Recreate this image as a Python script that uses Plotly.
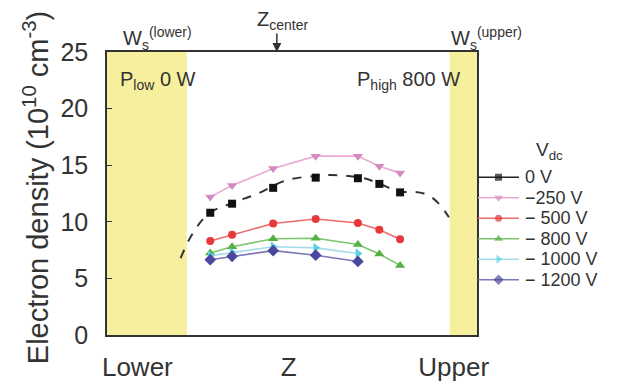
import plotly.graph_objects as go

# Normalized axial position Z (0 = lower wall, 1 = upper wall)
z_pts = [0.279, 0.338, 0.449, 0.564, 0.678, 0.736, 0.792]
z_pts5 = [0.279, 0.338, 0.449, 0.564, 0.678]

n_0v = [10.8, 11.6, 13.0, 13.9, 13.85, 13.35, 12.6]
n_250 = [12.2, 13.2, 14.7, 15.8, 15.8, 14.9, 14.3]
n_500 = [8.3, 8.85, 9.85, 10.25, 9.9, 9.3, 8.45]
n_800 = [7.25, 7.8, 8.5, 8.55, 8.0, 7.15, 6.15]
n_1000 = [7.0, 7.3, 7.8, 7.7, 7.2]
n_1200 = [6.65, 6.95, 7.45, 7.05, 6.5]

# dashed guide curve for 0 V
z_fit = [0.199, 0.232, 0.276, 0.338, 0.408, 0.483, 0.562, 0.606, 0.650, 0.694,
         0.734, 0.791, 0.826, 0.856, 0.882, 0.902, 0.924]
n_fit = [6.8, 9.0, 10.75, 11.65, 12.5, 13.65, 14.05, 14.13, 14.05, 13.85,
         13.4, 12.66, 12.66, 12.5, 12.05, 11.4, 10.4]

wall_lower = [0.0, 0.216]
wall_upper = [0.926, 1.0]
z_center = 0.459

x_tickvals = [0.082, 0.491, 0.937]
x_ticktext = ["Lower", "Z", "Upper"]
y_tickvals = [0, 5, 10, 15, 20, 25]

legend_names = ["0 V", "\u2212250 V", "\u2212 500 V", "\u2212 800 V", "\u2212 1000 V", "\u2212 1200 V"]

FONT = "Liberation Sans, Arial, sans-serif"
TXT = "#333333"

W, H = 620, 387
ML, MR, MT, MB = 107, 5, 52, 52
PW = W - ML - MR
PH = H - MT - MB
PLOT_RIGHT = 486


def px_x(px):
    return (px - ML) / PW


def px_y(py):
    return (H - MB - py) / PH


# name, x, y, line colour, marker colour, symbol, size, draw line in plot
series = [
    (legend_names[0], z_pts, n_0v, "#222222", "#111111", "square", 8, False),
    (legend_names[1], z_pts, n_250, "#e9a9d0", "#d48ac0", "triangle-down", 9, True),
    (legend_names[2], z_pts, n_500, "#ee6b6b", "#e8383c", "circle", 8, True),
    (legend_names[3], z_pts, n_800, "#7cc46a", "#55b043", "triangle-up", 9, True),
    (legend_names[4], z_pts5, n_1000, "#a5dcec", "#5fcfe3", "triangle-right", 9, True),
    (legend_names[5], z_pts5, n_1200, "#7a78b8", "#4a489e", "diamond", 9, True),
]

fig = go.Figure()

fig.add_trace(go.Scatter(
    x=z_fit, y=n_fit, mode="lines",
    line=dict(color="#333333", width=2, dash="dash", shape="spline"),
    showlegend=False, hoverinfo="skip"))

for name, xs, ys, lc, mc, sym, ms, show_line in series:
    fig.add_trace(go.Scatter(
        x=xs, y=ys, mode="lines+markers" if show_line else "markers", name=name,
        line=dict(color=lc, width=1.6),
        marker=dict(symbol=sym, size=ms, color=mc), showlegend=False))

# hand-built legend on its own small axes
for r, (name, xs, ys, lc, mc, sym, ms, show_line) in enumerate(series):
    fig.add_trace(go.Scatter(
        x=[0, 0.5, 1], y=[r, r, r], xaxis="x2", yaxis="y2", mode="lines+markers",
        line=dict(color=lc, width=1.6),
        marker=dict(symbol=sym, size=[0, ms - 1, 0], color=mc, line=dict(width=0)),
        showlegend=False, hoverinfo="skip"))

shapes = [
    dict(type="rect", xref="x", yref="paper", x0=wall_lower[0], x1=wall_lower[1], y0=0, y1=1,
         fillcolor="#f6f09e", line=dict(width=0), layer="below"),
    dict(type="rect", xref="x", yref="paper", x0=wall_upper[0], x1=wall_upper[1], y0=0, y1=1,
         fillcolor="#f6f09e", line=dict(width=0), layer="below"),
]

f20 = dict(size=20, color=TXT, family=FONT)
annotations = [
    dict(text="W<sub>s</sub><sup>(lower)</sup>", x=px_x(121), y=px_y(55), xref="paper", yref="paper",
         xanchor="left", yanchor="bottom", showarrow=False, font=f20),
    dict(text="W<sub>s</sub><sup>(upper)</sup>", x=px_x(457), y=px_y(55), xref="paper", yref="paper",
         xanchor="left", yanchor="bottom", showarrow=False, font=f20),
    dict(text="Z<sub>center</sub>", x=px_x(287), y=px_y(35), xref="paper", yref="paper",
         xanchor="center", yanchor="bottom", showarrow=False, font=f20),
    dict(text="", x=z_center, y=1.0, xref="x", yref="paper", ax=0, ay=-20,
         showarrow=True, arrowhead=2, arrowsize=1.2, arrowwidth=1.5, arrowcolor=TXT),
    dict(text="P<sub>low</sub> 0 W", x=px_x(118), y=px_y(81), xref="paper", yref="paper",
         xanchor="left", yanchor="middle", showarrow=False, font=dict(size=20, color=TXT, family=FONT)),
    dict(text="P<sub>high</sub> 800 W", x=px_x(471), y=px_y(81), xref="paper", yref="paper",
         xanchor="right", yanchor="middle", showarrow=False, font=dict(size=20, color=TXT, family=FONT)),
    dict(text="Electron density (10<sup>10</sup> cm<sup>-3</sup>)", x=px_x(35), y=px_y(366),
         xref="paper", yref="paper", xanchor="center", yanchor="bottom", textangle=-90,
         showarrow=False, font=dict(size=29, color=TXT, family=FONT)),
    dict(text="V<sub>dc</sub>", x=px_x(560), y=px_y(151), xref="paper", yref="paper",
         xanchor="center", yanchor="middle", showarrow=False, font=dict(size=19, color=TXT, family=FONT)),
]
for r, name in enumerate(legend_names):
    annotations.append(dict(text=name, x=px_x(533), y=r, xref="paper", yref="y2",
                            xanchor="left", yanchor="middle", showarrow=False,
                            font=dict(size=18, color=TXT, family=FONT)))

fig.update_layout(
    width=W, height=H,
    margin=dict(l=ML, r=MR, t=MT, b=MB),
    paper_bgcolor="white", plot_bgcolor="white",
    font=dict(family=FONT, color=TXT),
    shapes=shapes, annotations=annotations,
    showlegend=False,
    xaxis=dict(domain=[0, px_x(PLOT_RIGHT)], range=[0, 1], tickvals=x_tickvals, ticktext=x_ticktext,
               ticks="", tickfont=dict(size=26, color=TXT, family=FONT), showgrid=False, zeroline=False,
               showline=True, linecolor="#333333", linewidth=1.5, mirror=True, ticklabelstandoff=8),
    yaxis=dict(range=[0, 25], tickvals=y_tickvals, ticks="inside", ticklen=5, tickcolor="#333333",
               tickfont=dict(size=25, color=TXT, family=FONT), showgrid=False, zeroline=False,
               showline=True, linecolor="#333333", linewidth=1.5, mirror=True, ticklabelstandoff=12),
    xaxis2=dict(domain=[px_x(487), px_x(529)], range=[0, 1], visible=False, anchor="y2"),
    yaxis2=dict(domain=[px_y(290), px_y(167)], range=[5.5, -0.5], visible=False, anchor="x2"),
)

fig.write_html("out.html")
